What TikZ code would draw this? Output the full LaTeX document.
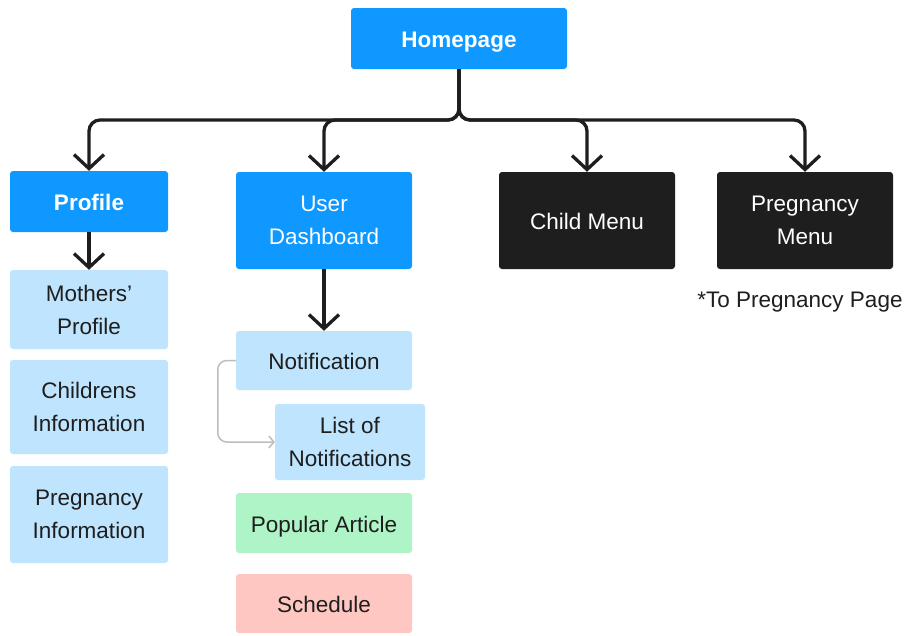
\documentclass[tikz,border=0pt]{standalone}
\usepackage{fontspec}
\setmainfont{Liberation Sans}
\usetikzlibrary{arrows.meta}
\definecolor{cblue}{HTML}{0F98FF}
\definecolor{clight}{HTML}{BFE4FD}
\definecolor{cgreen}{HTML}{AFF4C6}
\definecolor{cpink}{HTML}{FFC7C2}
\definecolor{cdark}{HTML}{1E1E1E}
\definecolor{cgray}{HTML}{BDBDBD}
\tikzset{
  box/.style={rectangle, rounded corners=3pt, inner sep=0pt, align=center,
    font=\fontsize{22.5}{33}\selectfont},
  oneline/.style={text height=18pt, text depth=0pt},
  bluebox/.style={box, fill=cblue, text=white, font=\fontsize{22.5}{33}\selectfont\bfseries},
  darkbox/.style={box, fill=cdark, text=white},
  lightbox/.style={box, fill=clight, text=cdark},
  greenbox/.style={box, fill=cgreen, text=cdark},
  pinkbox/.style={box, fill=cpink, text=cdark},
  conn/.style={draw=cdark, line width=3.3pt, rounded corners=11pt,
    -{Straight Barb[length=14pt,width=30pt,line width=3.3pt]}},
  thin/.style={draw=cgray, line width=1.5pt, rounded corners=9pt,
    -{Straight Barb[length=5pt,width=12pt,line width=1.5pt]}},
}
\begin{document}
\begin{tikzpicture}[x=1pt,y=-1pt]
\useasboundingbox[fill=white] (0,0) rectangle (908,635);
\node[bluebox, oneline, minimum width=216pt, minimum height=61pt] (home) at (459,38.5) {Homepage};
\node[bluebox, oneline, minimum width=158pt, minimum height=61pt] (profile) at (89,201.5) {Profile};
\node[bluebox, font=\fontsize{22.5}{33}\selectfont, minimum width=176pt, minimum height=97pt] (dash) at (324,220.5) {User\\Dashboard};
\node[darkbox, oneline, minimum width=176pt, minimum height=97pt] (child) at (587,220.5) {Child Menu};
\node[darkbox, minimum width=176pt, minimum height=97pt] (preg) at (805,220.5) {Pregnancy\\Menu};
\node[text=cdark, font=\fontsize{22.5}{33}\selectfont, inner sep=0pt] (note) at (800,302) {*To Pregnancy Page};
\node[lightbox, minimum width=158pt, minimum height=79pt] (mothers) at (89,309.5) {Mothers’\\Profile};
\node[lightbox, minimum width=158pt, minimum height=94pt] (childinfo) at (89,407) {Childrens\\Information};
\node[lightbox, minimum width=158pt, minimum height=97pt] (preginfo) at (89,514.5) {Pregnancy\\Information};
\node[lightbox, oneline, minimum width=176pt, minimum height=59pt] (notif) at (324,360.5) {Notification};
\node[lightbox, minimum width=150pt, minimum height=76pt] (list) at (350,442) {List of\\Notifications};
\node[greenbox, oneline, minimum width=176pt, minimum height=60pt] (pop) at (324,523) {Popular Article};
\node[pinkbox, oneline, minimum width=176pt, minimum height=59pt] (sched) at (324,603.5) {Schedule};
\coordinate (bus) at (459,120);
\draw[conn] (home.south) -- (bus) -- (profile.north |- bus) -- (profile.north);
\draw[conn] (home.south) -- (bus) -- (dash.north |- bus) -- (dash.north);
\draw[conn] (home.south) -- (bus) -- (child.north |- bus) -- (child.north);
\draw[conn] (home.south) -- (bus) -- (preg.north |- bus) -- (preg.north);
\draw[conn] (profile.south) -- (mothers.north);
\draw[conn] (dash.south) -- (notif.north);
\draw[thin] (notif.west) -- ++(-18,0) |- (list.west);
\end{tikzpicture}
\end{document}
